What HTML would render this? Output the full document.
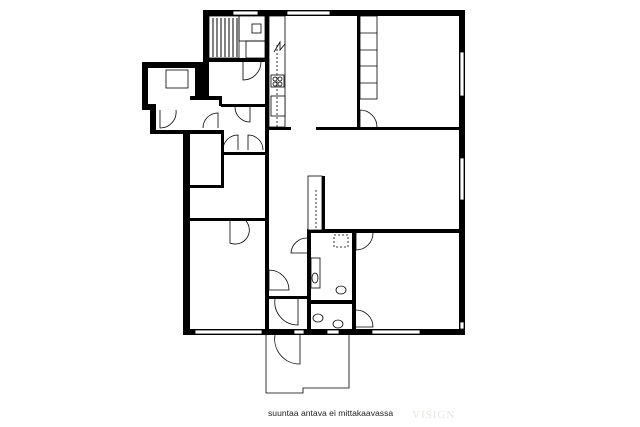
<!DOCTYPE html>
<html><head><meta charset="utf-8"><style>
html,body{margin:0;padding:0;background:#fff;width:640px;height:427px;overflow:hidden}
svg{display:block}
</style></head><body>
<svg width="640" height="427" viewBox="0 0 640 427" xmlns="http://www.w3.org/2000/svg">
<g fill="#000">
<rect x="203" y="10" width="262" height="6"/>
<rect x="459" y="10" width="6" height="325"/>
<rect x="183" y="329" width="282" height="6"/>
<rect x="183" y="130" width="7" height="205"/>
<rect x="203" y="10" width="6" height="55"/>
<rect x="203" y="58" width="65" height="4"/>
<rect x="142" y="62" width="61" height="6"/>
<rect x="142" y="62" width="6" height="48"/>
<rect x="142" y="104" width="12" height="6"/>
<rect x="195" y="62" width="14" height="38"/>
<rect x="190" y="96" width="32" height="4"/>
<rect x="150" y="104" width="6" height="30"/>
<rect x="150" y="130" width="72" height="4"/>
<rect x="219" y="96" width="3" height="10"/>
<rect x="221" y="104" width="47" height="3"/>
<rect x="221" y="130" width="3" height="58"/>
<rect x="190" y="185" width="34" height="3"/>
<rect x="222" y="152" width="46" height="3"/>
<rect x="190" y="218" width="78" height="3"/>
<rect x="265" y="16" width="4" height="314"/>
<rect x="265" y="127" width="26" height="3"/>
<rect x="316" y="127" width="149" height="3"/>
<rect x="357" y="16" width="3" height="112"/>
<rect x="322" y="176" width="3" height="54"/>
<rect x="307" y="229" width="158" height="4"/>
<rect x="307" y="229" width="4" height="101"/>
<rect x="352" y="229" width="4" height="101"/>
<rect x="307" y="300" width="48" height="4"/>
<rect x="268" y="296" width="40" height="3"/>
</g>
<g fill="#fff" stroke="#000" stroke-width="0.8">
<rect x="233" y="11" width="25" height="4"/>
<rect x="287" y="11" width="43" height="4"/>
<rect x="460" y="52" width="4" height="44"/>
<rect x="460" y="158" width="4" height="42"/>
<rect x="460" y="322" width="4" height="7"/>
<rect x="195" y="330" width="67" height="4"/>
<rect x="372" y="330" width="48" height="4"/>
<rect x="327" y="330" width="12" height="4"/>
<rect x="294" y="330" width="10" height="4"/>
<rect x="269" y="16" width="16" height="111" fill="none"/>
<rect x="360" y="16" width="17" height="83"/>
<rect x="209" y="16" width="30" height="42" fill="none"/>
<rect x="239" y="16" width="26" height="25" fill="none"/>
<rect x="246" y="41" width="19" height="17" fill="none"/>
<rect x="252" y="24" width="9" height="9"/>
<rect x="166" y="70" width="22" height="18"/>
<rect x="271" y="75" width="13" height="12"/>
<rect x="271" y="96" width="14" height="20"/>
<rect x="308" y="176" width="14" height="54"/>
<rect x="311" y="258" width="9" height="30"/>
</g>
<g stroke="#000" stroke-width="0.8" fill="none">
<path d="M266 335 V393 H303 V388 H349 V335"/>
<line x1="360" y1="33" x2="377" y2="33"/><line x1="360" y1="50" x2="377" y2="50"/>
<line x1="360" y1="66" x2="377" y2="66"/><line x1="360" y1="83" x2="377" y2="83"/>
<g stroke-width="1">
<line x1="213" y1="18" x2="213" y2="57"/><line x1="217" y1="18" x2="217" y2="57"/><line x1="221" y1="18" x2="221" y2="57"/><line x1="225" y1="18" x2="225" y2="57"/><line x1="229" y1="18" x2="229" y2="57"/><line x1="233" y1="18" x2="233" y2="57"/><line x1="237" y1="18" x2="237" y2="57"/>
</g>
<line x1="277" y1="45" x2="277" y2="127" stroke-dasharray="2,2"/>
<line x1="316" y1="190" x2="316" y2="228" stroke-dasharray="2,2"/>
<path d="M274 52 L280 42 L280 50 L285 44"/>
<rect x="334" y="235" width="14" height="12" stroke-dasharray="2,2"/>
<circle cx="275" cy="79" r="2"/><circle cx="280" cy="79" r="2"/><circle cx="275" cy="84" r="2"/><circle cx="280" cy="84" r="2"/>
<ellipse cx="315" cy="278" rx="3" ry="5"/>
<ellipse cx="341" cy="290" rx="5" ry="4"/>
<ellipse cx="318" cy="318" rx="5" ry="4"/>
<ellipse cx="338" cy="324" rx="5" ry="4"/>
<path d="M243 62 V80 A18 18 0 0 0 261 62"/>
<path d="M160 110 V128 A16 16 0 0 0 176 110"/>
<path d="M203 128 A15 15 0 0 1 218 113 V128"/>
<path d="M235 107 A15 15 0 0 0 250 122 V107"/>
<path d="M223 150 A15 15 0 0 1 238 135 V150" />
<path d="M263 150 A15 15 0 0 0 248 135 V150"/>
<path d="M360 127 V110 A17 17 0 0 1 377 127"/>
<path d="M230 221 V243 A14 14 0 0 0 246 221"/>
<path d="M307 238 A16 16 0 0 0 291 253 H307"/>
<path d="M356 233 V250 A17 17 0 0 0 373 233"/>
<path d="M269 270 A20 20 0 0 1 289 290 H269 Z"/>
<path d="M275 299 A23 23 0 0 0 298 325 V299"/>
<path d="M275 335 A25 25 0 0 0 300 364 V335"/>
<path d="M356 310 A17 17 0 0 1 373 327 H356"/>
</g>
<text x="268" y="416" font-family="Liberation Sans, sans-serif" font-size="8.6" fill="#222">suuntaa antava ei mittakaavassa</text>
<text x="412" y="418" font-family="Liberation Serif, serif" font-size="11" fill="#e6e4e0" letter-spacing="1">VISIGN</text>
</svg>
</body></html>
